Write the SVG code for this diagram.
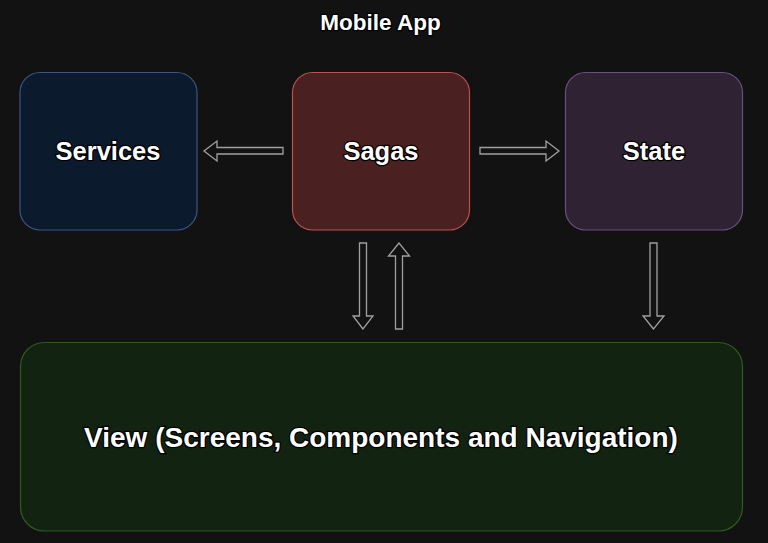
<svg xmlns="http://www.w3.org/2000/svg" width="768" height="543" viewBox="0 0 768 543">
<style>
.lbl{font-family:"Liberation Sans",Arial,sans-serif;font-weight:bold;fill:#fff;stroke:#000;stroke-width:2.5;paint-order:stroke;text-anchor:middle}
.box{stroke-width:1.2}
.arr{fill:#121212;stroke:#a0a0a0;stroke-width:1.3;stroke-linejoin:miter}
</style>
<rect width="768" height="543" fill="#121212"/>
<text class="lbl" x="380.500" y="30" font-size="22.5">Mobile App</text>
<g id="services">
<rect class="box" x="20" y="72.500" width="177" height="157.500" rx="20" fill="#0c1a2d" stroke="#3b5686"/>
<text class="lbl" x="108" y="160" font-size="25.500">Services</text>
</g>
<g id="sagas">
<rect class="box" x="292.500" y="72.500" width="177" height="157.500" rx="20" fill="#4a2020" stroke="#b9534e"/>
<text class="lbl" x="381" y="160" font-size="25.500">Sagas</text>
</g>
<g id="state">
<rect class="box" x="565.500" y="72.500" width="177" height="157.500" rx="20" fill="#2e2233" stroke="#6a5080"/>
<text class="lbl" x="654" y="160" font-size="25.500">State</text>
</g>
<g id="view">
<rect class="box" x="20.500" y="342.500" width="722" height="188.500" rx="24" fill="#132311" stroke="#2f5a20"/>
<text class="lbl" x="381" y="447" font-size="28">View (Screens, Components and Navigation)</text>
</g>
<g id="connectors">
<polygon class="arr" points="204,151 217,141 217,147.500 283,147.500 283,154 217,154 217,161"/>
<polygon class="arr" points="559,151 546,141 546,147.500 480,147.500 480,154 546,154 546,161"/>
<polygon class="arr" points="363,329 353,316 359.500,316 359.500,243 366.500,243 366.500,316 373,316"/>
<polygon class="arr" points="399,243 388.500,256 395.500,256 395.500,329 402.500,329 402.500,256 409.500,256"/>
<polygon class="arr" points="653.500,329 643,316 650,316 650,243 657,243 657,316 664,316"/>
</g>
</svg>
